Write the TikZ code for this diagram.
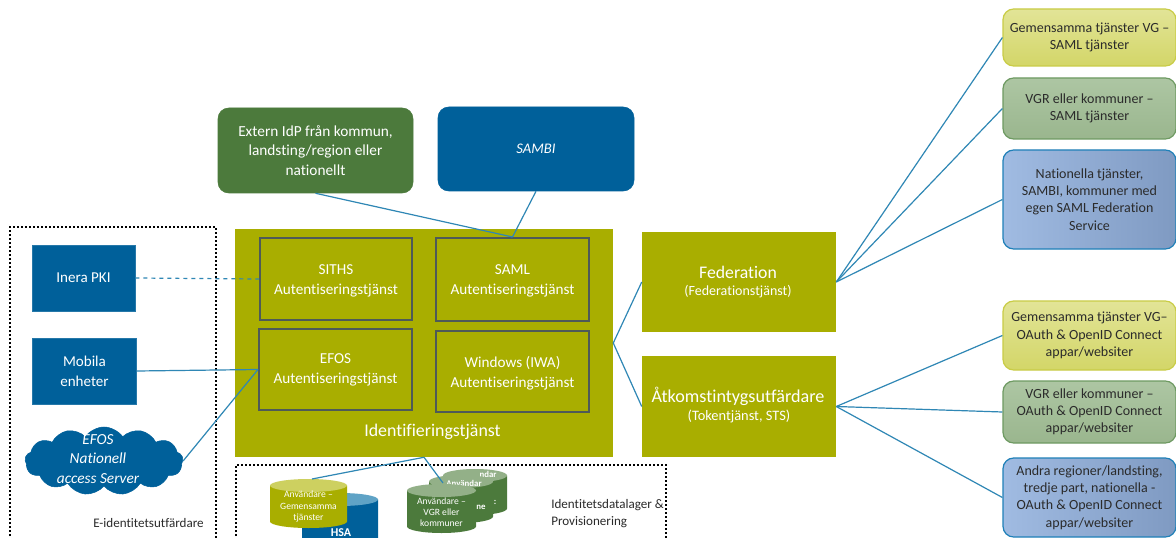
\documentclass[tikz,border=0pt]{standalone}
\usepackage{fontspec}
\setmainfont[Ligatures=NoCommon]{Carlito}
\usetikzlibrary{shapes.geometric,shapes.symbols}
\definecolor{olivebox}{HTML}{A9AE00}
\definecolor{bluebox}{HTML}{00609A}
\definecolor{greenbox}{HTML}{4C7A3C}
\definecolor{conn}{HTML}{2F87B5}
\definecolor{inner}{HTML}{4E5A58}
\definecolor{txt}{HTML}{2B2B2B}
\definecolor{yt}{HTML}{E2E497}\definecolor{yb}{HTML}{D3D668}\definecolor{yd}{HTML}{C9CC46}
\definecolor{gt}{HTML}{ADC6A3}\definecolor{gb}{HTML}{9AB68E}\definecolor{gd}{HTML}{6E9A62}
\definecolor{bl}{HTML}{A0BBE2}\definecolor{br}{HTML}{7F9AC2}\definecolor{bd}{HTML}{1F80B8}
\definecolor{olivetop}{HTML}{CDD060}\definecolor{greentop}{HTML}{93B088}\definecolor{bluetop}{HTML}{5FA3C6}
\tikzset{
  x=0.75pt,y=-0.75pt,
  pos box/.style 2 args={minimum width=#1*0.75pt,minimum height=#2*0.75pt,inner sep=0pt,align=center,anchor=center},
  bluerect/.style={draw=bluebox!85!white,fill=bluebox,text=white,font=\fontsize{11.3}{15}\selectfont},
  oliverect/.style={fill=olivebox,text=white},
  innerrect/.style={draw=inner,line width=1.5pt},
  innertext/.style={text=white,align=center,inner sep=0pt,font=\fontsize{11.4}{15}\selectfont},
  round green/.style={rounded corners=8pt,fill=greenbox,draw=greenbox,text=white,font=\fontsize{11.5}{14.6}\selectfont},
  round blue/.style={rounded corners=8pt,fill=bluebox,draw=bluebox,text=white,font=\fontsize{11}{16}\selectfont\itshape},
  rbase/.style={rounded corners=8pt,line width=0.9pt,text=txt,font=\fontsize{10.5}{12.9}\selectfont},
  ryellow/.style={rbase,draw=yd,top color=yt,bottom color=yb},
  rgreen/.style={rbase,draw=gd,top color=gt,bottom color=gb},
  rblue/.style={rbase,draw=bd,left color=bl,right color=br},
  conline/.style={draw=conn,line width=0.9pt},
  dottedbox/.style={draw=black,line width=1.5pt,dash pattern=on 1.5pt off 1.5pt},
  cyltext/.style={text=white,align=center,font=\fontsize{7.2}{8.3}\selectfont,inner sep=0pt},
  cylfrag/.style={text=white,inner sep=0pt,font=\bfseries\fontsize{6.6}{7}\selectfont},
  plainlabel/.style={text=txt,align=left,font=\fontsize{9.8}{12.8}\selectfont,inner sep=0pt},
}
% x-left, x-right, top, bottom, body colour, end colour
\newcommand{\cylshape}[6]{%
  \pgfmathsetmacro{\cxm}{(#1+#2)/2}\pgfmathsetmacro{\crx}{(#2-#1)/2}%
  \fill[#5] (#1,#3+6.5) -- (#1,#4-6.5) arc[start angle=180,end angle=360,x radius=\crx,y radius=-6.5] -- (#2,#3+6.5) -- cycle;
  \fill[#6] (\cxm,#3+6.5) ellipse[x radius=\crx,y radius=6.5];
}
\begin{document}
\begin{tikzpicture}
\useasboundingbox (0,0) rectangle (1176,538);
\fill[white] (0,0) rectangle (1176,538);
% dotted regions
\draw[dottedbox] (10,560) -- (10,227) -- (216,227) -- (216,560);
\draw[dottedbox] (236,560) -- (236,465) -- (666,465) -- (666,560);
\node[plainlabel,anchor=west] (eid) at (93,523) {E-identitetsutfärdare};
\node[plainlabel,anchor=west] (lager) at (551,513.5) {Identitetsdatalager \&\\Provisionering};
% main
\node[oliverect,pos box={378}{228}] (id) at (424,343) {};
\node[text=white,inner sep=0pt,font=\fontsize{13.4}{15}\selectfont] (idl) at (432.5,432) {Identifieringstjänst};
\node[innerrect,pos box={152}{82}] (siths) at (336,279) {};
\node[innertext] (sithst) at (336,281) {SITHS\\Autentiseringstjänst};
\node[innerrect,pos box={153}{83}] (saml) at (512.5,279.5) {};
\node[innertext] (samlt) at (512.5,280.5) {SAML\\Autentiseringstjänst};
\node[innerrect,pos box={153}{81}] (efos) at (335.5,369.5) {};
\node[innertext] (efost) at (335.5,370) {EFOS\\Autentiseringstjänst};
\node[innerrect,pos box={153}{81}] (win) at (512.5,371.5) {};
\node[innertext] (wint) at (512.5,373) {Windows (IWA)\\Autentiseringstjänst};
\node[oliverect,pos box={194}{100}] (fed) at (739,282) {};
\node[text=white,inner sep=0pt,font=\fontsize{13.3}{15}\selectfont] (fedt) at (738,272) {Federation};
\node[text=white,inner sep=0pt,font=\fontsize{10.5}{13}\selectfont] (feds) at (738,292) {(Federationstjänst)};
\node[oliverect,pos box={194}{101}] (atk) at (739,406.5) {};
\node[text=white,inner sep=0pt,font=\fontsize{13.6}{15}\selectfont] (atkt) at (738,396) {Åtkomstintygsutfärdare};
\node[text=white,inner sep=0pt,font=\fontsize{10.8}{13}\selectfont] (atks) at (739,416) {(Tokentjänst, STS)};
% top
\node[round green,pos box={195}{85}] (ext) at (315.5,150.5) {Extern IdP från kommun,\\landsting/region eller\\nationellt};
\node[round blue,pos box={196}{84}] (sambi) at (536,149) {SAMBI};
% left
\node[bluerect,pos box={103}{66}] (pki) at (83.5,278) {Inera PKI};
\node[bluerect,pos box={104}{66}] (mob) at (84.5,371) {Mobila\\enheter};
\node[cloud,cloud puffs=13,cloud puff arc=110,aspect=2.4,fill=bluebox,draw=bluebox,inner sep=0pt,minimum width=158*0.75pt,minimum height=68*0.75pt] (cloudn) at (104,461) {};
\node[text=white,align=center,inner sep=0pt,font=\fontsize{11.5}{14.6}\selectfont\itshape] (cloudt) at (98,459) {EFOS\\Nationell\\access Server};
% right
\node[ryellow,pos box={173}{57}] (r1) at (1089.5,37.5) {Gemensamma tjänster VG –\\SAML tjänster};
\node[rgreen,pos box={173}{61}] (r2) at (1089.5,108.5) {VGR  eller kommuner –\\SAML tjänster};
\node[rblue,pos box={173}{99}] (r3) at (1089.5,199.5) {Nationella tjänster,\\SAMBI, kommuner med\\egen SAML Federation\\Service};
\node[ryellow,pos box={173}{69}] (r4) at (1089.5,335.5) {Gemensamma tjänster VG–\\OAuth \& OpenID Connect\\appar/websiter};
\node[rgreen,pos box={173}{62}] (r5) at (1089.5,412) {VGR eller kommuner –\\OAuth \& OpenID Connect\\appar/websiter};
\node[rblue,pos box={173}{79}] (r6) at (1089.5,497.5) {Andra regioner/landsting,\\tredje part, nationella -\\OAuth \& OpenID Connect\\appar/websiter};
% data stores
\cylshape{302}{378}{493}{570}{bluebox}{bluetop}
\node[text=white,inner sep=0pt,font=\bfseries\fontsize{9}{10}\selectfont] (hsat) at (341,533) {HSA};
\cylshape{270}{347}{479}{528}{olivebox}{olivetop}
\node[cyltext] (yelt) at (308.5,506.5) {Användare –\\Gemensamma\\tjänster};
\cylshape{443}{507}{469}{515}{greenbox}{greentop}
\node[cylfrag] (g1a) at (488,474.5) {ndar};
\node[cylfrag] (g1t) at (495,502) {:};
\cylshape{429}{493}{475}{523}{greenbox}{greentop}
\node[cylfrag] (g2a) at (464,483) {Användar};
\node[cylfrag] (g2b) at (481,507) {ne};
\cylshape{407}{476}{484}{533}{greenbox}{greentop}
\node[cyltext] (g3t) at (441.5,512) {Användare –\\VGR eller\\kommuner};
\coordinate (g2top) at (443,483);
\coordinate (yeltop) at (312,479);
% connectors
\draw[conline,dashed] (pki.east) -- (siths.west);
\draw[conline] (mob.east) -- (efos.west);
\draw[conline] (cloudn.east) -- (efos.west);
\draw[conline] (ext.south) -- (saml.north);
\draw[conline] (sambi.south) -- (saml.north);
\draw[conline] (id.east) -- (fed.west);
\draw[conline] (id.east) -- (atk.west);
\draw[conline] (id.south) -- (yeltop);
\draw[conline] (id.south) -- (g2top);
\foreach \t in {r1,r2,r3} \draw[conline] (fed.east) -- (\t.west);
\foreach \t in {r4,r5,r6} \draw[conline] (atk.east) -- (\t.west);
\end{tikzpicture}
\end{document}
